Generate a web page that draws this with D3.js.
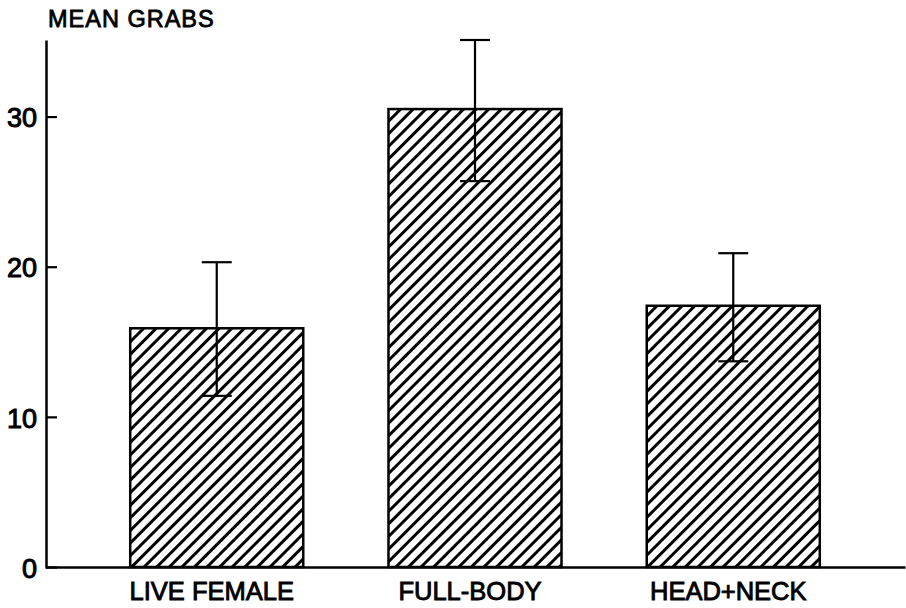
<!DOCTYPE html>
<html>
<head>
<meta charset="utf-8">
<script src="https://cdn.jsdelivr.net/npm/d3@7"></script>
<style>
  body { margin: 0; background: #fff; }
  svg { display: block; font-family: "Liberation Sans", Arial, sans-serif; }
</style>
</head>
<body>
<div id="chart"></div>
<script>
var categories = ["LIVE FEMALE", "FULL-BODY", "HEAD+NECK"];
var means = [15.9, 30.5, 17.4];
var errLow = [11.4, 25.7, 13.7];
var errHigh = [20.3, 35.1, 20.9];
var yTicks = [0, 10, 20, 30];
var yTitle = "MEAN GRABS";

var width = 906, height = 608;

var svg = d3.select("#chart").append("svg")
    .attr("width", width)
    .attr("height", height);

// hatch fill
var defs = svg.append("defs");
defs.append("pattern")
    .attr("id", "hatch")
    .attr("patternUnits", "userSpaceOnUse")
    .attr("width", 8.9)
    .attr("height", 8.9)
    .attr("patternTransform", "rotate(45)")
  .append("line")
    .attr("x1", 4.45).attr("y1", 0)
    .attr("x2", 4.45).attr("y2", 8.9)
    .attr("stroke", "#000")
    .attr("stroke-width", 3);

var x = d3.scaleBand()
    .domain(categories)
    .range([45, 905])
    .padding(0.33);

var y = d3.scaleLinear()
    .domain([0, 35.1])
    .range([567, 40]);

var rows = categories.map(function (c, i) {
    return { cat: c, mean: means[i], lo: errLow[i], hi: errHigh[i] };
});

// bars
svg.selectAll("rect.bar")
    .data(rows)
    .enter().append("rect")
    .attr("class", "bar")
    .attr("x", function (d) { return x(d.cat); })
    .attr("y", function (d) { return y(d.mean); })
    .attr("width", x.bandwidth())
    .attr("height", function (d) { return y(0) - y(d.mean); })
    .attr("fill", "url(#hatch)")
    .attr("stroke", "#000")
    .attr("stroke-width", 2.5);

// error bars
var eb = svg.selectAll("g.err")
    .data(rows)
    .enter().append("g")
    .attr("class", "err")
    .attr("stroke", "#000")
    .attr("stroke-width", 2.2);

eb.append("line")
    .attr("x1", function (d) { return x(d.cat) + x.bandwidth() / 2; })
    .attr("x2", function (d) { return x(d.cat) + x.bandwidth() / 2; })
    .attr("y1", function (d) { return y(d.lo); })
    .attr("y2", function (d) { return y(d.hi); });

eb.append("line")
    .attr("x1", function (d) { return x(d.cat) + x.bandwidth() / 2 - 15; })
    .attr("x2", function (d) { return x(d.cat) + x.bandwidth() / 2 + 15; })
    .attr("y1", function (d) { return y(d.hi); })
    .attr("y2", function (d) { return y(d.hi); });

eb.append("line")
    .attr("x1", function (d) { return x(d.cat) + x.bandwidth() / 2 - 15; })
    .attr("x2", function (d) { return x(d.cat) + x.bandwidth() / 2 + 15; })
    .attr("y1", function (d) { return y(d.lo); })
    .attr("y2", function (d) { return y(d.lo); });

// y axis
var yAxis = svg.append("g")
    .attr("transform", "translate(46,0)")
    .call(d3.axisLeft(y).tickValues(yTicks).tickFormat(d3.format("d"))
        .tickSize(-11).tickSizeOuter(0).tickPadding(9));
yAxis.select(".domain").attr("stroke-width", 2.5);
yAxis.selectAll(".tick line").attr("stroke-width", 2.2);
yAxis.selectAll(".tick text")
    .attr("font-size", 27)
    .attr("font-family", "Liberation Sans, Arial, sans-serif")
    .attr("fill", "#000")
    .attr("stroke", "#000")
    .attr("stroke-width", 1)
    .attr("dy", "0.38em");

// x axis (baseline)
var xAxis = svg.append("g")
    .attr("transform", "translate(0,567)")
    .call(d3.axisBottom(x).tickSize(0).tickSizeOuter(0).tickPadding(15));
xAxis.select(".domain").attr("stroke-width", 2.5);
xAxis.selectAll(".tick text")
    .attr("font-size", 25.5)
    .attr("font-family", "Liberation Sans, Arial, sans-serif")
    .attr("fill", "#000")
    .attr("stroke", "#000")
    .attr("stroke-width", 0.9)
    .attr("dx", -5)
    .attr("dy", "0.71em");

// axis title
svg.append("text")
    .attr("x", 48)
    .attr("y", 27)
    .attr("font-size", 23.5)
    .attr("letter-spacing", 1)
    .attr("fill", "#000")
    .attr("stroke", "#000")
    .attr("stroke-width", 0.8)
    .text(yTitle);
</script>
</body>
</html>
